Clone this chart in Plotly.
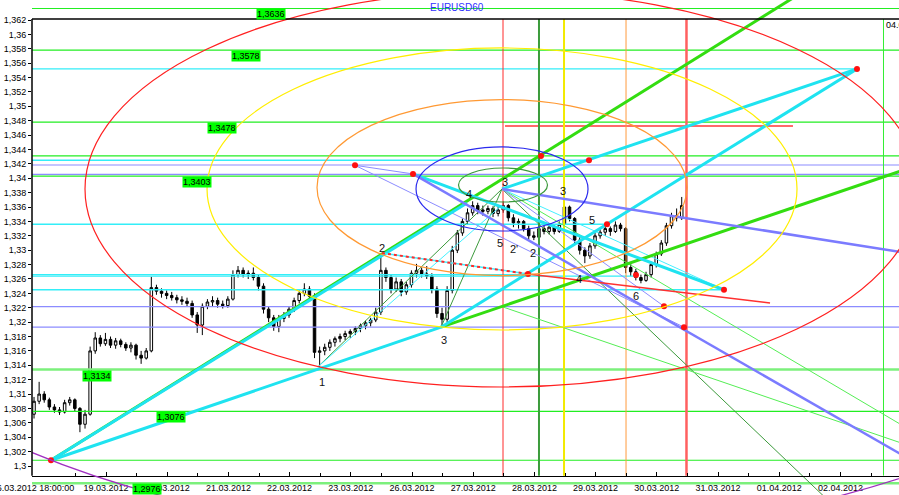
import plotly.graph_objects as go

# ---------------- data ----------------
bar_start_day = -0.176        # position of first 2-hour bar on the day axis
bar_step_day = 1 / 12         # 2-hour bars

opens = [1.3072,1.3090,1.3100,1.3092,1.3082,1.3078,1.3075,1.3088,1.3092,1.3080,1.3058,1.3072,1.3160,1.3178,1.3170,1.3176,
         1.3168,1.3174,1.3169,1.3164,1.3168,1.3154,1.3150,1.3160,1.3248,1.3243,1.3240,1.3237,1.3234,1.3231,1.3229,1.3226,
         1.3210,1.3196,1.3222,1.3228,1.3230,1.3225,1.3223,1.3232,1.3266,1.3272,1.3266,1.3268,1.3262,1.3250,1.3218,1.3206,
         1.3194,1.3205,1.3210,1.3218,1.3230,1.3240,1.3246,1.3236,1.3158,1.3160,1.3165,1.3172,1.3177,1.3180,1.3184,1.3187,
         1.3191,1.3195,1.3199,1.3203,1.3214,1.3272,1.3262,1.3246,1.3256,1.3242,1.3252,1.3268,1.3272,1.3267,1.3264,1.3246,
         1.3212,1.3204,1.3244,1.3300,1.3324,1.3340,1.3352,1.3362,1.3356,1.3354,1.3358,1.3351,1.3356,1.3362,1.3345,1.3338,
         1.3340,1.3330,1.3320,1.3318,1.3330,1.3326,1.3332,1.3326,1.3336,1.3360,1.3344,1.3314,1.3300,1.3292,1.3306,1.3320,
         1.3325,1.3330,1.3326,1.3335,1.3330,1.3276,1.3270,1.3262,1.3258,1.3266,1.3280,1.3295,1.3310,1.3334,1.3348,1.3345]
highs = [1.3096,1.3117,1.3104,1.3095,1.3086,1.3082,1.3092,1.3096,1.3094,1.3082,1.3078,1.3166,1.3186,1.3182,1.3185,1.3180,
         1.3178,1.3177,1.3172,1.3172,1.3170,1.3160,1.3164,1.3263,1.3252,1.3247,1.3244,1.3242,1.3238,1.3236,1.3234,1.3230,
         1.3214,1.3226,1.3232,1.3236,1.3234,1.3230,1.3236,1.3272,1.3278,1.3276,1.3272,1.3276,1.3266,1.3254,1.3222,1.3210,
         1.3210,1.3214,1.3222,1.3234,1.3244,1.3254,1.3250,1.3240,1.3166,1.3170,1.3176,1.3180,1.3184,1.3188,1.3190,1.3194,
         1.3198,1.3202,1.3206,1.3220,1.3296,1.3276,1.3266,1.3262,1.3260,1.3256,1.3272,1.3281,1.3276,1.3278,1.3268,1.3250,
         1.3220,1.3250,1.3306,1.3328,1.3344,1.3358,1.3368,1.3366,1.3362,1.3362,1.3361,1.3360,1.3368,1.3364,1.3350,1.3344,
         1.3342,1.3334,1.3326,1.3334,1.3334,1.3336,1.3335,1.3340,1.3372,1.3362,1.3346,1.3318,1.3304,1.3310,1.3324,1.3330,
         1.3334,1.3333,1.3340,1.3338,1.3332,1.3282,1.3274,1.3266,1.3270,1.3284,1.3298,1.3314,1.3338,1.3352,1.3358,1.3374]
lows = [1.3066,1.3086,1.3088,1.3078,1.3074,1.3071,1.3073,1.3084,1.3076,1.3047,1.3052,1.3070,1.3156,1.3166,1.3167,1.3164,
        1.3163,1.3165,1.3160,1.3158,1.3148,1.3142,1.3148,1.3158,1.3238,1.3234,1.3232,1.3230,1.3226,1.3224,1.3222,1.3206,
        1.3185,1.3182,1.3218,1.3222,1.3220,1.3219,1.3220,1.3230,1.3262,1.3262,1.3260,1.3258,1.3244,1.3212,1.3200,1.3188,
        1.3186,1.3200,1.3206,1.3214,1.3226,1.3236,1.3232,1.3150,1.3138,1.3154,1.3160,1.3166,1.3172,1.3175,1.3178,1.3182,
        1.3186,1.3190,1.3194,1.3200,1.3210,1.3256,1.3240,1.3242,1.3236,1.3238,1.3248,1.3262,1.3262,1.3260,1.3240,1.3206,
        1.3193,1.3200,1.3240,1.3296,1.3320,1.3336,1.3348,1.3350,1.3348,1.3350,1.3346,1.3347,1.3352,1.3340,1.3332,1.3330,
        1.3326,1.3315,1.3314,1.3316,1.3322,1.3322,1.3322,1.3324,1.3334,1.3340,1.3310,1.3294,1.3282,1.3288,1.3302,1.3316,
        1.3320,1.3320,1.3324,1.3326,1.3268,1.3264,1.3258,1.3254,1.3256,1.3262,1.3276,1.3292,1.3306,1.3330,1.3340,1.3342]
closes = [1.3090,1.3100,1.3092,1.3082,1.3078,1.3075,1.3088,1.3092,1.3080,1.3058,1.3072,1.3160,1.3178,1.3170,1.3176,1.3168,
          1.3174,1.3169,1.3164,1.3168,1.3154,1.3150,1.3160,1.3248,1.3243,1.3240,1.3237,1.3234,1.3231,1.3229,1.3226,1.3210,
          1.3196,1.3222,1.3228,1.3230,1.3225,1.3223,1.3232,1.3266,1.3272,1.3266,1.3268,1.3262,1.3250,1.3218,1.3206,1.3194,
          1.3205,1.3210,1.3218,1.3230,1.3240,1.3246,1.3236,1.3158,1.3160,1.3165,1.3172,1.3177,1.3180,1.3184,1.3187,1.3191,
          1.3195,1.3199,1.3203,1.3214,1.3272,1.3262,1.3246,1.3256,1.3242,1.3252,1.3268,1.3272,1.3267,1.3264,1.3246,1.3212,
          1.3204,1.3244,1.3300,1.3324,1.3340,1.3352,1.3362,1.3356,1.3354,1.3358,1.3351,1.3356,1.3362,1.3345,1.3338,1.3340,
          1.3330,1.3320,1.3318,1.3330,1.3326,1.3332,1.3326,1.3336,1.3360,1.3344,1.3314,1.3300,1.3292,1.3306,1.3320,1.3325,
          1.3330,1.3326,1.3335,1.3330,1.3276,1.3270,1.3262,1.3258,1.3266,1.3280,1.3295,1.3310,1.3334,1.3348,1.3345,1.3362]

date_tick_days = [-0.193, 1, 2, 3, 4, 5, 6, 7, 8, 9, 10, 11, 12, 13]
date_tick_text = ["16.03.2012 18:00:00", "19.03.2012", "20.03.2012", "21.03.2012", "22.03.2012", "23.03.2012",
                  "26.03.2012", "27.03.2012", "28.03.2012", "29.03.2012", "30.03.2012", "31.03.2012",
                  "01.04.2012", "02.04.2012"]
minor_tick_days = [0.5, 1.5, 2.5, 3.5, 4.5, 5.5, 6.5, 7.5, 8.5, 9.5, 10.5, 11.5, 12.5, 13.5]

price_ticks = [1.300, 1.302, 1.304, 1.306, 1.308, 1.310, 1.312, 1.314, 1.316, 1.318, 1.320, 1.322, 1.324, 1.326,
               1.328, 1.330, 1.332, 1.334, 1.336, 1.338, 1.340, 1.342, 1.344, 1.346, 1.348, 1.350, 1.352, 1.354,
               1.356, 1.358, 1.360, 1.362]
price_tick_text = ["1,3", "1,302", "1,304", "1,306", "1,308", "1,31", "1,312", "1,314", "1,316", "1,318", "1,32",
                   "1,322", "1,324", "1,326", "1,328", "1,33", "1,332", "1,334", "1,336", "1,338", "1,34", "1,342",
                   "1,344", "1,346", "1,348", "1,35", "1,352", "1,354", "1,356", "1,358", "1,36", "1,362"]

x_range = [-0.2092, 13.9575]
y_range = [1.295969, 1.364780]
frame_top = 1.36214
frame_bottom = 1.29866

green_levels = [1.3636, 1.3578, 1.3478, 1.3431, 1.3403, 1.3076, 1.3008]
green_wide_levels = [1.3134, 1.2976]
lavender_levels = [1.34184, 1.34055, 1.32215, 1.3193]
cyan_levels = [1.3552, 1.3425, 1.3336, 1.3266, 1.3264, 1.3245]
cyan_level_end_days = [13.271, 8.892, 9.186, 7.895, 9.660, 11.098]

level_labels = ["1,3636", "1,3578", "1,3478", "1,3403", "1,3134", "1,3076", "1,2976"]
level_label_prices = [1.3636, 1.3578, 1.3478, 1.3403, 1.3134, 1.3076, 1.2976]
level_label_days = [3.704, 3.288, 2.895, 2.479, 0.853, 2.070, 1.670]

vline_days = [7.487, 8.075, 8.484, 9.497, 10.485, 13.704]
vline_colors = ["#ff2a2a", "#3c9c3c", "#f2ea00", "#ff9a3c", "#ff6060", "#33ee33"]
vline_widths = [1, 2, 2, 1, 2.5, 1]

# ellipses: (center day, center price, half width in days, half height in price, colour)
ellipse_cx = [7.471, 7.471, 7.471, 7.471, 7.487, 7.454]
ellipse_cy = [1.33851, 1.33851, 1.33870, 1.33851, 1.33906, 1.33837]
ellipse_ax = [6.814, 4.820, 3.023, 1.405, 0.727, 11.716]
ellipse_by = [0.027525, 0.019601, 0.012233, 0.005839, 0.002363, 0.048238]
ellipse_colors = ["#ff2020", "#ffee00", "#ff9933", "#2a2aee", "#3c9a3c", "#a030c0"]

# key pivot points (day, price)
pt_a = (0.101, 1.3008)
pt_1 = (4.464, 1.3138)
pt_2 = (5.510, 1.3296)
pt_3 = (6.474, 1.3193)
pt_b = (5.069, 1.3418)
pt_c = (6.016, 1.3406)
pt_d = (8.108, 1.3431)
pt_e = (8.892, 1.3425)
pt_f = (13.271, 1.3552)
pt_g = (11.098, 1.3245)
pt_h = (10.118, 1.3222)
pt_i = (10.444, 1.3193)
pt_j = (7.895, 1.3267)
pt_k = (9.186, 1.3336)
pt_l = (9.660, 1.32655)
pt_ctr = (7.471, 1.33851)

red_dots = [pt_a, pt_b, pt_c, pt_d, pt_e, pt_f, pt_g, pt_h, pt_i, pt_j, pt_k, pt_l]

wave_labels = ["1", "2", "3", "4", "3", "5", "2'", "2", "3", "5", "4", "6"]
wave_label_days = [4.529, 5.510, 6.523, 6.931, 7.520, 7.438, 7.667, 7.977, 8.467, 8.941, 8.729, 9.660]
wave_label_prices = [1.31168, 1.33031, 1.31751, 1.33781, 1.33948, 1.33100, 1.33017, 1.32961, 1.33823, 1.33420,
                     1.32600, 1.32363]

FONT = "Arial, Liberation Sans, sans-serif"

fig = go.Figure()


def seg(p, q, color, width, dash="solid"):
    fig.add_trace(go.Scatter(x=[p[0], q[0]], y=[p[1], q[1]], mode="lines",
                             line=dict(color=color, width=width, dash=dash),
                             hoverinfo="skip", showlegend=False))


# candles
fig.add_trace(go.Candlestick(
    x=[bar_start_day + i * bar_step_day for i in range(len(closes))],
    open=opens, high=highs, low=lows, close=closes,
    increasing=dict(line=dict(color="black", width=1), fillcolor="white"),
    decreasing=dict(line=dict(color="black", width=1), fillcolor="black"),
    whiskerwidth=0, showlegend=False, hoverinfo="skip"))

# horizontal levels
for lv in green_levels:
    seg((x_range[0], lv), (x_range[1], lv), "#22ee22", 1.2)
for lv in green_wide_levels:
    seg((x_range[0], lv), (x_range[1], lv), "#7cf07c", 2.5)
for lv in lavender_levels:
    seg((x_range[0], lv), (x_range[1], lv), "#8c8cff", 1.2)
for lv, end in zip(cyan_levels, cyan_level_end_days):
    seg((x_range[0], lv), (end, lv), "#33eef8", 1.4)

# red horizontal segment
seg((7.520, 1.34726), (12.225, 1.34726), "#ff6a6a", 2)

# vertical lines
for d, c, w in zip(vline_days, vline_colors, vline_widths):
    seg((d, frame_top), (d, frame_bottom), c, w)

# thin fan lines
seg(pt_1, pt_ctr, "#3c9a3c", 1)
seg(pt_3, pt_ctr, "#3c9a3c", 1)
seg(pt_ctr, (12.95, 1.2940), "#3c9a3c", 1)
seg(pt_ctr, (14.2, 1.3047), "#55ee55", 1)
seg((7.487, 1.3221), (14.2, 1.3026), "#55ee55", 1)
seg(pt_1, (7.471, 1.33628), "#44f0ff", 1)
seg(pt_ctr, pt_g, "#44f0ff", 1)
seg(pt_b, pt_c, "#8c8cff", 1)
seg(pt_b, pt_i, "#8c8cff", 1)
seg(pt_ctr, pt_h, "#8c8cff", 1)

# wider lines
seg(pt_a, (12.60, 1.36705), "#33dd11", 3)       # green ray through d
seg(pt_3, (14.2, 1.34163), "#33dd11", 3)        # green ray from 3
seg(pt_a, (6.899, 1.33656), "#1fe3f0", 3)       # cyan from a
seg(pt_a, pt_3, "#1fe3f0", 3)
seg(pt_3, pt_f, "#1fe3f0", 3)
seg(pt_ctr, pt_f, "#1fe3f0", 3)
seg(pt_c, pt_g, "#1fe3f0", 3)
seg(pt_c, (14.2, 1.3006), "#7b7bff", 2.5)
seg(pt_ctr, (14.2, 1.32945), "#7b7bff", 2.5)
seg(pt_2, pt_j, "#44f0ff", 1.5)
seg(pt_2, pt_j, "#ff2a2a", 2, "dot")
seg(pt_j, (11.850, 1.32266), "#ff3030", 1.5)

# red dots
fig.add_trace(go.Scatter(x=[p[0] for p in red_dots], y=[p[1] for p in red_dots], mode="markers",
                         marker=dict(color="#ff1010", size=6), hoverinfo="skip", showlegend=False))

# ellipses
for cx, cy, ax, by, col in zip(ellipse_cx, ellipse_cy, ellipse_ax, ellipse_by, ellipse_colors):
    fig.add_shape(type="circle", xref="x", yref="y", x0=cx - ax, x1=cx + ax, y0=cy - by, y1=cy + by,
                  line=dict(color=col, width=1.2), layer="above")

# frame (top and left)
fig.add_shape(type="line", xref="paper", yref="y", x0=0, x1=1, y0=frame_top, y1=frame_top,
              line=dict(color="black", width=1.5))
fig.add_shape(type="line", xref="paper", yref="y", x0=0, x1=0, y0=frame_bottom, y1=frame_top,
              line=dict(color="black", width=1.5))

# level labels
for t, p, d in zip(level_labels, level_label_prices, level_label_days):
    fig.add_annotation(x=d, y=p, text=t, showarrow=False, xanchor="center", yanchor="top",
                       bgcolor="#00ff00", borderpad=0, font=dict(family=FONT, size=9, color="black"))

# wave labels
for t, d, p in zip(wave_labels, wave_label_days, wave_label_prices):
    fig.add_annotation(x=d, y=p, text=t, showarrow=False, xanchor="center", yanchor="middle",
                       font=dict(family=FONT, size=11, color="#111111"))

# title and date label of vertical line
fig.add_annotation(x=6.73, y=1.36377, text="EURUSD60", showarrow=False, xanchor="center", yanchor="middle",
                   font=dict(family=FONT, size=10, color="#3030ff"))
fig.add_annotation(x=13.712, y=1.3613, text="04.04.2012", showarrow=False, xanchor="left", yanchor="middle",
                   font=dict(family=FONT, size=9, color="black"))

fig.update_layout(
    width=899, height=495,
    margin=dict(l=32, r=0, t=0, b=0),
    paper_bgcolor="white", plot_bgcolor="white",
    showlegend=False,
    xaxis=dict(range=x_range, showgrid=False, zeroline=False, anchor="free", position=0.0384,
               showline=True, linecolor="black", linewidth=1,
               tickmode="array", tickvals=date_tick_days, ticktext=date_tick_text,
               ticks="inside", ticklen=4, tickcolor="black", ticklabeloverflow="allow",
               ticklabelstandoff=3,
               minor=dict(tickvals=minor_tick_days, ticks="inside", ticklen=3, tickcolor="black"),
               tickfont=dict(family=FONT, size=9, color="black"),
               rangeslider=dict(visible=False), automargin=False),
    yaxis=dict(range=y_range, showgrid=False, zeroline=False, showline=False,
               tickmode="array", tickvals=price_ticks, ticktext=price_tick_text,
               ticks="outside", ticklen=3, tickcolor="black",
               tickfont=dict(family=FONT, size=9, color="black"), automargin=False),
)

fig.write_html("out.html", config={"displayModeBar": False},
               post_script="document.body.style.margin='0px';document.body.style.overflow='hidden';")
